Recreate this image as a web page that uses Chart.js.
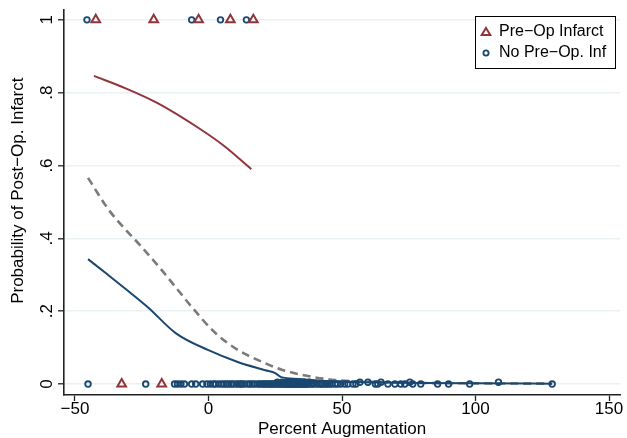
<!DOCTYPE html>
<html>
<head>
<meta charset="utf-8">
<title>Post-Op Infarct</title>
<script src="https://cdn.jsdelivr.net/npm/chart.js@4.4.1/dist/chart.umd.min.js"></script>
<style>
  html, body { margin: 0; padding: 0; background: #fff; }
  #chart { display: block; }
</style>
</head>
<body>
<canvas id="chart" width="627" height="438"></canvas>
<script>
// observed outcomes (jittered at 0 / 1)
const infarctTopX = [-42.2, -20.5, -3.7, 8.2, 16.8];
const infarctBottomX = [-32.5, -17.5];
const noInfTopX = [-45.5, -6.3, 4.5, 14.2];
const noInfBottomX = [
  -45.1, -23.5, -12.7, -11.6, -10.3, -9.0, -6.3, -4.8, -2.2, -0.6, 0.7, 1.9, 2.6, 3.8,
  4.9, 5.8, 6.7, 7.6, 8.5, 9.3, 10.4, 11.2, 12.0, 12.5, 13.4, 14.6, 15.5, 16.3, 17.2,
  18.3, 19.1, 19.8, 20.6, 21.0, 21.8, 22.4, 23.1, 23.5, 24.2, 24.6, 25.4, 26.0, 26.5,
  27.2, 27.7, 28.0, 28.6, 28.9, 29.5, 29.8, 30.2, 30.6, 31.0, 31.4, 31.9, 32.2, 32.7,
  33.0, 33.5, 33.8, 34.2, 34.6, 35.1, 35.5, 36.0, 36.3, 36.9, 37.3, 38.2, 38.8, 39.4,
  40.5, 41.3, 42.0, 42.6, 43.3, 44.1, 44.7, 45.4, 46.2, 47.4, 48.3, 49.5, 51.0, 52.2,
  54.1, 55.2, 62.5, 63.4, 67.2, 69.8, 72.0, 73.5, 76.5, 79.5, 85.8, 89.9, 97.8, 128.7
];
const noInfLiftX = [25.8, 27.5, 29.3, 30.8, 31.8, 33.2, 34.2, 35.8, 37.8, 56.7, 59.7, 64.6, 75.4, 108.6];

// fitted probabilities
const preOpCurveX = [-42.9, -31, -18.7, -3.7, 6, 16.0];
const preOpCurveY = [0.846, 0.812, 0.770, 0.703, 0.653, 0.590];
const noPreOpCurveX = [-45.1, -38, -31, -22.4, -12.3, 0, 11.2, 21.3, 25, 27.2, 33.6, 45.9, 60, 80, 100, 128.7];
const noPreOpCurveY = [0.343, 0.302, 0.261, 0.209, 0.140, 0.093, 0.060, 0.038, 0.030, 0.019, 0.014, 0.008, 0.005, 0.003, 0.002, 0.001];
const overallCurveX = [-45.1, -37.3, -25, -17.5, -12.3, -6.3, 2.6, 11.2, 19.8, 27.2, 37.3, 47.4, 60, 80, 100, 128.7];
const overallCurveY = [0.566, 0.478, 0.376, 0.313, 0.266, 0.212, 0.140, 0.093, 0.062, 0.040, 0.022, 0.011, 0.006, 0.003, 0.002, 0.001];

const xTickValues = [-50, 0, 50, 100, 150];
const yTickValues = [0, 0.2, 0.4, 0.6, 0.8, 1];
const yTickLabels = ["0", ".2", ".4", ".6", ".8", "1"];

const RED = "#90353b";
const BLUE = "#1a476f";
const GREY = "#7a7a7a";
const FONT = "'Liberation Sans', Arial, Helvetica, sans-serif";

const pts = (xs, y) => xs.map((x) => ({ x, y }));
const curve = (xs, ys) => xs.map((x, i) => ({ x, y: ys[i] }));

const legendBox = {
  id: "legendBox",
  afterDraw(chart) {
    const { ctx, chartArea } = chart;
    const w = 140, h = 52;
    const x0 = chartArea.right - 5 - w;
    const y0 = chartArea.top + 6;
    ctx.save();
    ctx.fillStyle = "#fff";
    ctx.fillRect(x0, y0, w, h);
    ctx.strokeStyle = "#000";
    ctx.lineWidth = 1;
    ctx.strokeRect(x0 + 0.5, y0 + 0.5, w, h);

    // triangle
    const tx = x0 + 11, ty = y0 + 16;
    ctx.strokeStyle = RED;
    ctx.lineWidth = 2;
    ctx.beginPath();
    ctx.moveTo(tx, ty - 4);
    ctx.lineTo(tx + 4.3, ty + 3);
    ctx.lineTo(tx - 4.3, ty + 3);
    ctx.closePath();
    ctx.stroke();

    // circle
    const cx = x0 + 11, cy = y0 + 37;
    ctx.strokeStyle = BLUE;
    ctx.lineWidth = 1.8;
    ctx.beginPath();
    ctx.arc(cx, cy, 2.6, 0, Math.PI * 2);
    ctx.stroke();

    ctx.fillStyle = "#000";
    ctx.font = "16px " + FONT;
    ctx.textBaseline = "middle";
    ctx.textAlign = "left";
    ctx.fillText("Pre\u2212Op Infarct", x0 + 24, ty);
    ctx.fillText("No Pre\u2212Op. Inf", x0 + 24, cy);
    ctx.restore();
  },
};

new Chart(document.getElementById("chart"), {
  type: "scatter",
  data: {
    datasets: [
      {
        label: "overall",
        type: "line",
        data: curve(overallCurveX, overallCurveY),
        borderColor: GREY,
        borderWidth: 2.6,
        borderDash: [8, 5],
        pointRadius: 0,
        cubicInterpolationMode: "monotone",
        order: 3,
      },
      {
        label: "no pre-op fit",
        type: "line",
        data: curve(noPreOpCurveX, noPreOpCurveY),
        borderColor: BLUE,
        borderWidth: 2,
        pointRadius: 0,
        cubicInterpolationMode: "monotone",
        order: 2,
      },
      {
        label: "pre-op fit",
        type: "line",
        data: curve(preOpCurveX, preOpCurveY),
        borderColor: RED,
        borderWidth: 2,
        pointRadius: 0,
        cubicInterpolationMode: "monotone",
        order: 2,
      },
      {
        label: "No Pre\u2212Op. Inf",
        data: [...pts(noInfTopX, 1), ...pts(noInfBottomX, 0), ...pts(noInfLiftX, 0.005)],
        pointStyle: "circle",
        pointRadius: 2.8,
        borderWidth: 1.8,
        borderColor: BLUE,
        backgroundColor: "rgba(0,0,0,0)",
        order: 1,
      },
      {
        label: "Pre\u2212Op Infarct",
        data: [...pts(infarctTopX, 1), ...pts(infarctBottomX, 0)],
        pointStyle: "triangle",
        pointRadius: 5,
        borderWidth: 2,
        borderColor: RED,
        backgroundColor: "rgba(0,0,0,0)",
        order: 0,
      },
    ],
  },
  options: {
    responsive: false,
    animation: false,
    devicePixelRatio: 1,
    layout: { padding: { left: 0, right: 5, top: 10, bottom: 0 } },
    plugins: { legend: { display: false }, tooltip: { enabled: false } },
    scales: {
      x: {
        type: "linear",
        min: -54.1,
        max: 154.1,
        afterBuildTicks: (s) => { s.ticks = xTickValues.map((v) => ({ value: v })); },
        afterFit: (s) => { s.height = 43; s.paddingLeft = 0; s.paddingRight = 0; },
        ticks: {
          color: "#000",
          font: { family: FONT, size: 17, lineHeight: 1 },
          padding: 0,
          maxRotation: 0,
          callback: (v) => String(v).replace("-", "\u2212"),
        },
        grid: { drawOnChartArea: false, tickColor: "#222", tickLength: 6, tickWidth: 1.3 },
        border: { display: true, color: "#222", width: 1.6 },
        title: {
          display: true,
          text: "Percent Augmentation",
          color: "#000",
          font: { family: FONT, size: 17 },
          padding: { top: 0, bottom: -2 },
        },
      },
      y: {
        type: "linear",
        min: -0.03,
        max: 1.027,
        afterBuildTicks: (s) => { s.ticks = yTickValues.map((v) => ({ value: v })); },
        afterFit: (s) => { s.width = 64; s.paddingTop = 0; s.paddingBottom = 0; },
        ticks: {
          color: "#000",
          font: { family: FONT, size: 17 },
          padding: 4,
          minRotation: 90,
          maxRotation: 90,
          crossAlign: "center",
          callback: (v) => {
            const i = yTickValues.findIndex((t) => Math.abs(t - v) < 1e-9);
            return i >= 0 ? yTickLabels[i] : "";
          },
        },
        grid: { color: "#e9f1f4", lineWidth: 1.6, tickColor: "#222", tickLength: 6, tickWidth: 1.3 },
        border: { display: true, color: "#222", width: 1.6 },
        title: {
          display: true,
          // leading spaces nudge the centred title up to sit like the original
          text: "     Probability of Post\u2212Op. Infarct",
          color: "#000",
          font: { family: FONT, size: 17 },
          padding: { top: 8, bottom: 0 },
        },
      },
    },
  },
  plugins: [legendBox],
});
</script>
</body>
</html>
